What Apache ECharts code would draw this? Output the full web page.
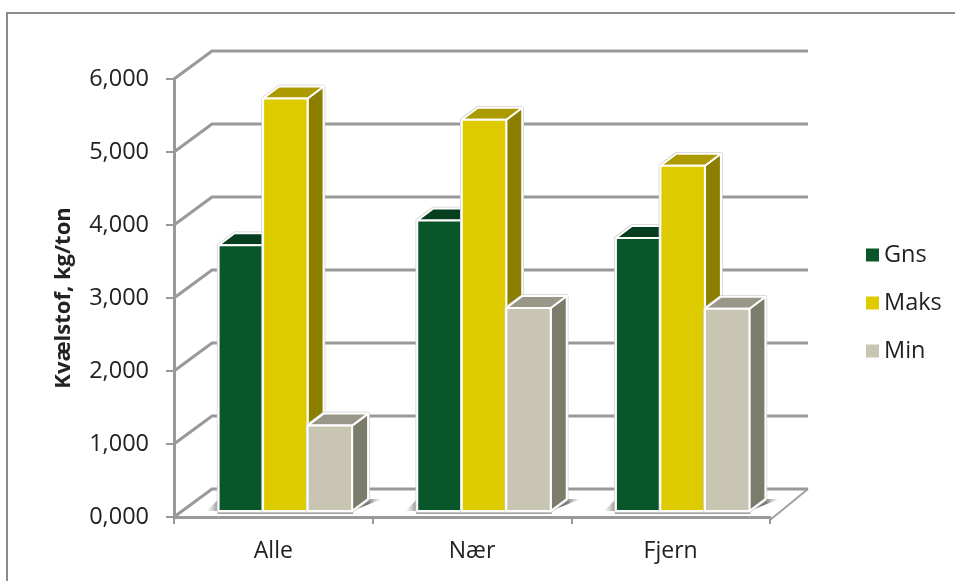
<!DOCTYPE html>
<html><head><meta charset="utf-8">
<style>html,body{margin:0;padding:0;background:#fff}#c{width:955px;height:581px}</style>
<script src="https://cdn.jsdelivr.net/npm/echarts@6/dist/echarts.min.js"></script>
</head><body><div id="c"></div>
<script>
const categories = ['Alle', 'Nær', 'Fjern'];
const gns = [3640, 3980, 3740];
const maks = [5650, 5360, 4730];
const min = [1170, 2780, 2770];
const tickValues = [0, 1000, 2000, 3000, 4000, 5000, 6000];
const tickLabels = ['0,000', '1,000', '2,000', '3,000', '4,000', '5,000', '6,000'];
const FONT = '"Open Sans"';
const GRAY = '#999999';
const palette = {
  Gns:  {front: '#08562a', top: '#063f1f', side: '#063f1f'},
  Maks: {front: '#ddcb00', top: '#ab9b00', side: '#8c7f00'},
  Min:  {front: '#c8c6b2', top: '#989788', side: '#7c7c6c'}
};
const WALL_DX = 38, WALL_DY = -28, FAR_RIGHT = 808 - 770;
const BAR_DX = 16, BAR_DY = -12, BASE_DX = 12, BASE_DY = -6, BAR_FRAC = 0.224;

function wallItem(params, api) {
  const cs = params.coordSys;
  const p = api.coord([0, api.value(0)]);
  const y = p[1];
  const x0 = cs.x, x1 = cs.x + cs.width;
  return {type: 'polyline', silent: true,
    shape: {points: [[x0, y], [x0 + WALL_DX, y + WALL_DY], [x1 + FAR_RIGHT, y + WALL_DY]]},
    style: {stroke: GRAY, lineWidth: 3, fill: null}};
}
function floorItem(params, api) {
  const cs = params.coordSys;
  const x1 = cs.x + cs.width, y = api.coord([0, 0])[1];
  return {type: 'line', silent: true,
    shape: {x1: x1, y1: y + 3, x2: x1 + FAR_RIGHT, y2: y + WALL_DY},
    style: {stroke: '#a0a0a0', lineWidth: 2}};
}
function shadowItem(params, api) {
  const c = api.coord([api.value(0), 0]);
  const band = api.size([1, 0])[0], w = band * BAR_FRAC;
  const x = c[0] + BASE_DX - w * 1.5, y = c[1] + BASE_DY;
  const xr = x + w * 3;
  return {type: 'group', silent: true, children: [
    {type: 'polygon', shape: {points: [[xr, y], [xr + BAR_DX, y + BAR_DY], [xr + BAR_DX + 14, y + BAR_DY]]},
      style: {fill: new echarts.graphic.LinearGradient(0, 0, 1, 0, [
        {offset: 0, color: 'rgba(60,60,60,0.9)'},
        {offset: 0.55, color: 'rgba(90,90,90,0.8)'},
        {offset: 1, color: 'rgba(200,200,200,0.1)'}])}},
    {type: 'polygon', shape: {points: [[x - 12, y], [x, y], [x, y + BAR_DY]]},
      style: {fill: new echarts.graphic.LinearGradient(0, 0, 1, 0, [
        {offset: 0, color: 'rgba(200,200,200,0.1)'},
        {offset: 1, color: 'rgba(90,90,90,0.75)'}])}},
    {type: 'rect', shape: {x: x - 1, y: y + 1, width: w * 3 + 2, height: 2},
      style: {fill: '#a0a0a0'}}
  ]};
}
function barItem(idx, name) {
  const col = palette[name];
  return function (params, api) {
    const cat = api.value(0), val = api.value(1);
    const c = api.coord([cat, val]), base = api.coord([cat, 0]);
    const band = api.size([1, 0])[0], w = band * BAR_FRAC;
    const x0 = c[0] + BASE_DX - w * 1.5 + idx * w, x1 = x0 + w;
    const yT = c[1] + BASE_DY, yB = base[1] + BASE_DY;
    const edge = {stroke: '#ffffff', lineWidth: 2, lineJoin: 'round'};
    const outline = {stroke: '#d0d0d0', lineWidth: 3.5, lineJoin: 'round'};
    const sil = [[x0, yB], [x0, yT], [x0 + BAR_DX, yT + BAR_DY], [x1 + BAR_DX, yT + BAR_DY], [x1 + BAR_DX, yB + BAR_DY], [x1, yB]];
    return {type: 'group', silent: true, children: [
      {type: 'polygon', shape: {points: sil}, style: Object.assign({fill: col.side}, outline)},
      {type: 'polygon', shape: {points: [[x1, yT], [x1 + BAR_DX, yT + BAR_DY], [x1 + BAR_DX, yB + BAR_DY], [x1, yB]]}, style: Object.assign({fill: col.side}, edge)},
      {type: 'polygon', shape: {points: [[x0, yT], [x0 + BAR_DX, yT + BAR_DY], [x1 + BAR_DX, yT + BAR_DY], [x1, yT]]}, style: Object.assign({fill: col.top}, edge)},
      {type: 'rect', shape: {x: x0, y: yT, width: w, height: yB - yT}, style: Object.assign({fill: col.front}, edge)}
    ]};
  };
}
function barSeries(name, values, idx) {
  return {name: name, type: 'custom', renderItem: barItem(idx, name), z: 5 + idx,
    itemStyle: {color: palette[name].front},
    encode: {x: 0, y: 1}, data: values.map((v, i) => [i, v])};
}

const chart = echarts.init(document.getElementById('c'), null, {renderer: 'canvas'});
chart.setOption({
  animation: false,
  backgroundColor: '#ffffff',
  graphic: [{type: 'rect', z: 0, silent: true, shape: {x: 7, y: 13, width: 990, height: 600},
    style: {fill: 'none', stroke: '#8c8c8c', lineWidth: 2}}],
  legend: {orient: 'vertical', left: 861, top: 235, itemWidth: 13, itemHeight: 13, itemGap: 18,
    icon: 'rect', data: ['Gns', 'Maks', 'Min'],
    textStyle: {fontFamily: FONT, fontSize: 23.5, lineHeight: 30, color: '#222222'}},
  grid: {left: 174, right: 185, top: 79, bottom: 64},
  xAxis: {type: 'category', data: categories, offset: 3,
    axisLine: {lineStyle: {color: GRAY, width: 3}},
    axisTick: {show: true, length: 7, alignWithLabel: false, lineStyle: {color: GRAY, width: 2}},
    axisLabel: {fontFamily: FONT, fontSize: 23, color: '#222222', margin: 20}},
  yAxis: {type: 'value', min: 0, max: 6000, interval: 1000,
    name: 'Kvælstof, kg/ton', nameLocation: 'middle', nameGap: 99, nameRotate: 90,
    nameTextStyle: {fontFamily: FONT, fontWeight: 'bold', fontSize: 22, color: '#222222'},
    axisLine: {show: true, lineStyle: {color: GRAY, width: 3}},
    axisTick: {show: true, length: 8, lineStyle: {color: GRAY, width: 2}},
    splitLine: {show: false},
    axisLabel: {fontFamily: FONT, fontSize: 23.5, color: '#222222', margin: 25, padding: [5, 0, 0, 0],
      formatter: v => tickLabels[tickValues.indexOf(v)]}},
  series: [
    {type: 'custom', renderItem: wallItem, z: 1, silent: true, legendHoverLink: false,
      encode: {y: 0}, data: tickValues.map(v => [v])},
    {type: 'custom', renderItem: floorItem, z: 1, silent: true, encode: {y: 0}, data: [[0]]},
    {type: 'custom', renderItem: shadowItem, z: 2, silent: true, encode: {x: 0},
      data: categories.map((c, i) => [i])},
    barSeries('Gns', gns, 0),
    barSeries('Maks', maks, 1),
    barSeries('Min', min, 2)
  ]
});
</script></body></html>
